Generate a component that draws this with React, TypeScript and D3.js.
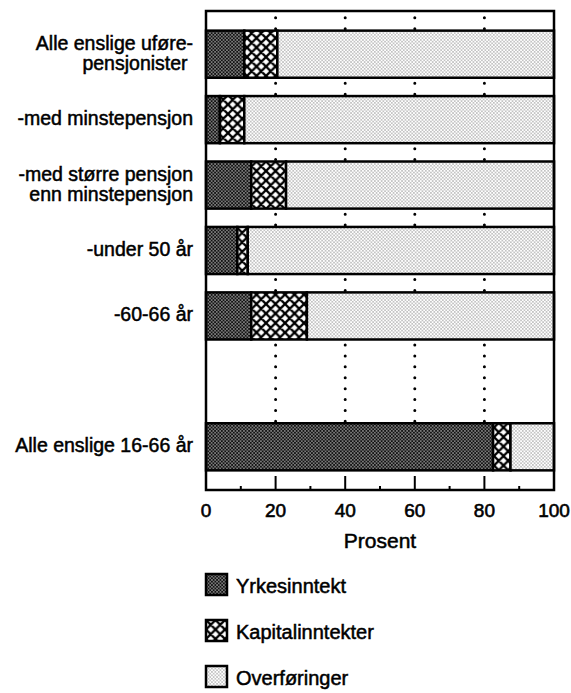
import React from "react";
import * as d3 from "d3";

const categories = ["a", "b", "c", "d", "e", "gap", "f"];
const labelLines: string[][] = [
  ["Alle enslige uføre-", "pensjonister\u00a0"],
  ["-med minstepensjon"],
  ["-med større pensjon", "enn minstepensjon"],
  ["-under 50 år"],
  ["-60-66 år"],
  [],
  ["Alle enslige 16-66 år"],
];
const yrkesinntekt = [11, 4, 13, 9, 13, null, 82.5];
const kapitalinntekter = [9.5, 7, 10, 3, 16, null, 5];
const overforinger = [79.5, 89, 77, 88, 71, null, 12.5];
const seriesNames = ["Yrkesinntekt", "Kapitalinntekter", "Overføringer"];
const majorTicks = [0, 20, 40, 60, 80, 100];
const minorTicks = [10, 30, 50, 70, 90];
const axisTitle = "Prosent";

const FONT = "'Liberation Sans', Arial, Helvetica, sans-serif";

export default function App() {
  const W = 571, H = 693;
  const x = d3.scaleLinear().domain([0, 100]).range([206, 554]);
  const y = d3.scaleBand<string>().domain(categories).range([11, 490]).paddingInner(0.28).paddingOuter(0.3);
  const step = y.step();
  const bw = y.bandwidth();
  const [top, bottom] = y.range();
  const patterns = ["pYrk", "pKap", "pOvf"];

  const table = categories.map((c, i) => ({
    key: c,
    yrkes: yrkesinntekt[i] ?? 0,
    kapital: kapitalinntekter[i] ?? 0,
    overf: overforinger[i] ?? 0,
    has: yrkesinntekt[i] != null,
  }));
  const stack = d3.stack<any>().keys(["yrkes", "kapital", "overf"])(table);

  const firstGapCenter = top + (y.paddingOuter() * step) / 2 - 3;
  const gridEnd = y("f")!;
  const period = step / 6;

  const textStyle: React.CSSProperties = { fontFamily: FONT };

  return (
    <svg width={W} height={H} style={{ position: "absolute", left: 0, top: 0, background: "#fff" }}>
      <defs>
        <pattern id="pYrk" width={3.4} height={3.4} patternUnits="userSpaceOnUse">
          <rect width={3.4} height={3.4} fill="#111" />
          <circle cx={0.85} cy={0.85} r={0.7} fill="#fff" />
          <circle cx={2.55} cy={2.55} r={0.7} fill="#fff" />
        </pattern>
        <pattern id="pKap" width={9.5} height={9.5} patternUnits="userSpaceOnUse">
          <rect width={9.5} height={9.5} fill="#fff" />
          <path d="M0,0L9.5,9.5M9.5,0L0,9.5M-1,8.5L1,10.5M8.5,-1L10.5,1M-1,1L1,-1M8.5,10.5L10.5,8.5" stroke="#000" strokeWidth={2.3} />
        </pattern>
        <pattern id="pOvf" width={3.4} height={3.4} patternUnits="userSpaceOnUse">
          <rect width={3.4} height={3.4} fill="#fff" />
          <circle cx={0.85} cy={0.85} r={0.55} fill="#555" />
          <circle cx={2.55} cy={2.55} r={0.55} fill="#555" />
        </pattern>
      </defs>

      {/* dotted gridlines */}
      {[20, 40, 60, 80].map((t) => (
        <line
          key={"g" + t}
          x1={x(t)}
          x2={x(t)}
          y1={firstGapCenter}
          y2={gridEnd}
          stroke="#000"
          strokeWidth={3}
          strokeLinecap="round"
          strokeDasharray={`0 ${period}`}
        />
      ))}

      {/* bars */}
      {stack.map((s, si) => (
        <g key={s.key}>
          {s.map((d, i) =>
            table[i].has ? (
              <rect
                key={i}
                x={x(d[0])}
                y={y(categories[i])!}
                width={x(d[1]) - x(d[0])}
                height={bw}
                fill={`url(#${patterns[si]})`}
                stroke="#000"
                strokeWidth={2.5}
              />
            ) : null
          )}
        </g>
      ))}

      {/* frame */}
      <rect x={x(0)} y={top} width={x(100) - x(0)} height={bottom - top} fill="none" stroke="#000" strokeWidth={2.5} />

      {/* ticks */}
      {majorTicks.slice(1, -1).map((t) => (
        <line key={"mt" + t} x1={x(t)} x2={x(t)} y1={bottom} y2={bottom - 14} stroke="#000" strokeWidth={2} />
      ))}
      {minorTicks.map((t) => (
        <line key={"mn" + t} x1={x(t)} x2={x(t)} y1={bottom} y2={bottom - 4} stroke="#000" strokeWidth={2} />
      ))}
      {majorTicks.map((t) => (
        <text key={"tl" + t} x={x(t)} y={517} textAnchor="middle" fontSize={19} style={textStyle} stroke="#000" strokeWidth={0.6}>
          {t}
        </text>
      ))}
      <text x={(x(0) + x(100)) / 2} y={548} textAnchor="middle" fontSize={21} style={textStyle} stroke="#000" strokeWidth={0.5}>
        {axisTitle}
      </text>

      {/* category labels */}
      {labelLines.map((lines, i) => {
        const cy = y(categories[i])! + bw / 2;
        const lh = 20;
        return lines.map((ln, j) => (
          <text
            key={i + "-" + j}
            x={193}
            y={cy + 5.5 + (j - (lines.length - 1) / 2) * lh}
            textAnchor="end"
            fontSize={19.5}
            style={textStyle}
            stroke="#000"
            strokeWidth={0.5}
          >
            {ln}
          </text>
        ));
      })}

      {/* legend */}
      {seriesNames.map((n, i) => (
        <g key={n} transform={`translate(206, ${574 + i * 46})`}>
          <rect x={0} y={0} width={21} height={21} fill={`url(#${patterns[i]})`} stroke="#000" strokeWidth={2.5} />
          <text x={30} y={19} fontSize={20} style={textStyle} stroke="#000" strokeWidth={0.5}>
            {n}
          </text>
        </g>
      ))}
    </svg>
  );
}
